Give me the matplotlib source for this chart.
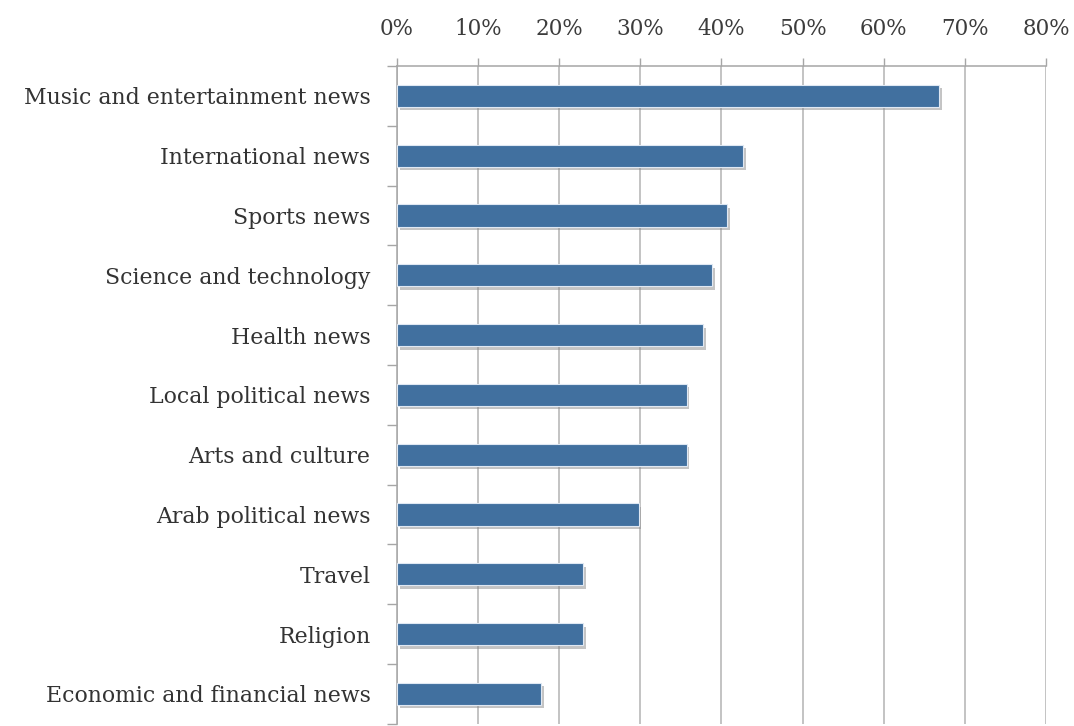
import matplotlib
matplotlib.use("Agg")
import matplotlib.pyplot as plt
import matplotlib.patheffects as pe
from matplotlib.ticker import FixedLocator, PercentFormatter

categories = [
    "Music and entertainment news",
    "International news",
    "Sports news",
    "Science and technology",
    "Health news",
    "Local political news",
    "Arts and culture",
    "Arab political news",
    "Travel",
    "Religion",
    "Economic and financial news",
]
shares = [66.8, 42.7, 40.7, 38.8, 37.7, 35.7, 35.7, 29.8, 22.9, 22.9, 17.8]
x_ticks = [0, 10, 20, 30, 40, 50, 60, 70, 80]

plt.rcParams["font.family"] = ["DejaVu Serif"]

fig = plt.figure(figsize=(10.74, 7.26), dpi=100)
ax = fig.add_axes([0.3696, 0.003, 0.6043, 0.906])

n = len(categories)
ypos = list(range(n))
bars = ax.barh(ypos, shares, height=0.37, color="#41709f",
               edgecolor="#dfe8f3", linewidth=0.8, zorder=3)
for b in bars:
    b.set_path_effects([pe.SimplePatchShadow(offset=(2.0, -2.5),
                                             shadow_rgbFace="#8a8a8a", alpha=0.5),
                        pe.Normal()])

ax.set_xlim(0, 80)
ax.set_ylim(n - 0.5, -0.5)

ax.xaxis.set_major_locator(FixedLocator(x_ticks))
ax.xaxis.set_major_formatter(PercentFormatter(decimals=0))
ax.xaxis.tick_top()
ax.tick_params(axis="x", which="major", direction="out", length=6,
               color="#a6a6a6", width=1, pad=13, labelsize=15.5,
               labelcolor="#3c3c3c")

ax.set_yticks(ypos)
ax.set_yticklabels(categories)
ax.yaxis.set_minor_locator(FixedLocator([i - 0.5 for i in range(n + 1)]))
ax.tick_params(axis="y", which="major", length=0, pad=19, labelsize=15.8,
               labelcolor="#333333")
ax.tick_params(axis="y", which="minor", direction="out", length=7,
               color="#a6a6a6", width=1)

ax.grid(axis="x", color="#b3b3b3", linewidth=1.1, zorder=0)
ax.set_axisbelow(True)
for side in ("right", "bottom"):
    ax.spines[side].set_visible(False)
for side in ("left", "top"):
    ax.spines[side].set_color("#a6a6a6")
    ax.spines[side].set_linewidth(1.1)

fig.savefig("out.png", dpi=100, facecolor="white")
